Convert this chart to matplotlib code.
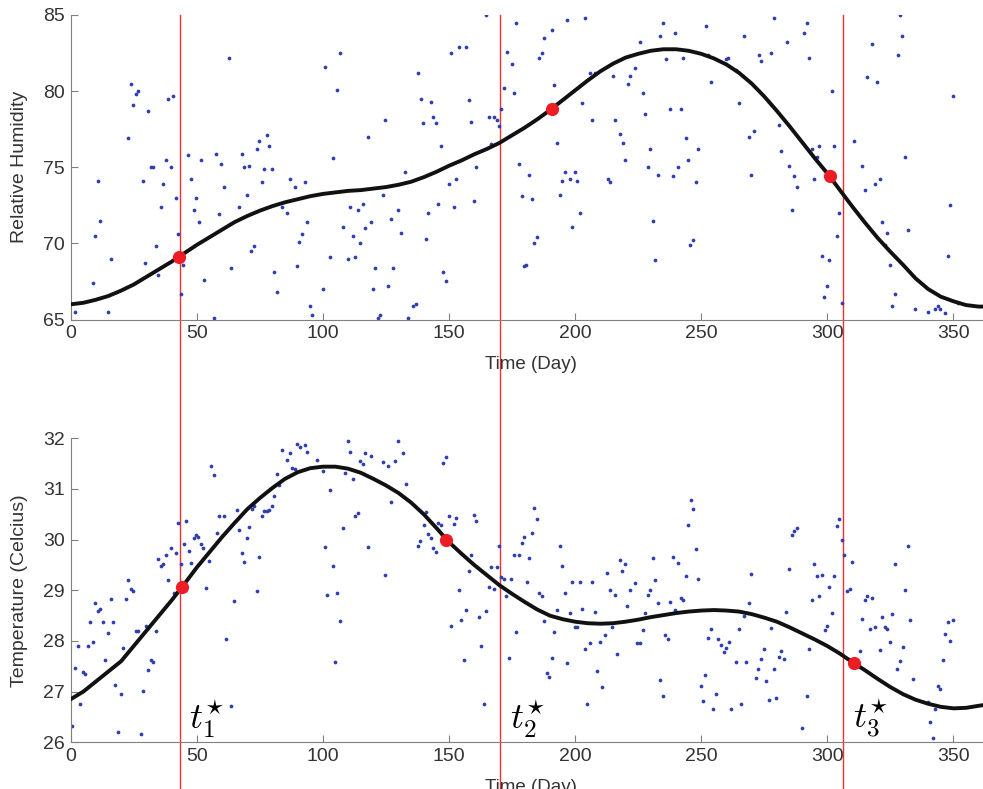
import matplotlib.pyplot as plt

plt.rcParams['font.family'] = ['Liberation Sans', 'DejaVu Sans']
plt.rcParams['mathtext.fontset'] = 'cm'

# change points (days)
change_days = [43.2, 170.4, 306.4]
change_labels = [r'$t_1^{\star}$', r'$t_2^{\star}$', r'$t_3^{\star}$']

# smooth fits, read every 5 days
fit_day = list(range(0, 366, 5))
hum_fit = [66.0, 66.1, 66.3, 66.55, 66.9, 67.3, 67.8, 68.3, 68.8, 69.35, 69.9, 70.4, 70.9, 71.4,
           71.8, 72.15, 72.45, 72.7, 72.9, 73.1, 73.25, 73.35, 73.45, 73.5, 73.6, 73.7, 73.85,
           74.05, 74.35, 74.7, 75.1, 75.45, 75.85, 76.2, 76.6, 77.1, 77.6, 78.15, 78.75, 79.4,
           80.05, 80.7, 81.3, 81.8, 82.2, 82.45, 82.65, 82.75, 82.75, 82.65, 82.45, 82.15, 81.75,
           81.2, 80.5, 79.65, 78.7, 77.7, 76.65, 75.6, 74.6, 73.5, 72.4, 71.35, 70.35, 69.45,
           68.6, 67.7, 67.0, 66.5, 66.2, 65.95, 65.85, 65.85]
temp_fit = [26.85, 27.0, 27.2, 27.4, 27.6, 27.9, 28.2, 28.5, 28.8, 29.12, 29.45, 29.75, 30.05,
            30.33, 30.6, 30.82, 31.02, 31.2, 31.33, 31.41, 31.44, 31.44, 31.4, 31.32, 31.2, 31.07,
            30.92, 30.73, 30.5, 30.23, 29.95, 29.72, 29.5, 29.3, 29.1, 28.93, 28.77, 28.62, 28.5,
            28.43, 28.38, 28.35, 28.34, 28.35, 28.38, 28.42, 28.47, 28.51, 28.55, 28.58, 28.6,
            28.61, 28.6, 28.58, 28.53, 28.46, 28.38, 28.27, 28.15, 28.03, 27.9, 27.75, 27.58,
            27.42, 27.25, 27.09, 26.95, 26.84, 26.76, 26.7, 26.67, 26.68, 26.72, 26.76]

# points picked on the fits
hum_mark_day = [43, 191, 301]
hum_mark_val = [69.1, 78.85, 74.4]
temp_mark_day = [44, 149, 310.5]
temp_mark_val = [29.06, 30.0, 27.56]

# daily observations
hum_day = [1.7, 8.7, 9.6, 10.7, 11.8, 14.9, 15.8, 22.6, 23.8, 24.7, 25.8, 26.7, 28.7, 29.6, 30.7,
           31.8, 32.8, 33.7, 34.7, 35.8, 36.7, 37.8, 38.7, 39.7, 40.7, 41.8, 42.7, 43.7, 44.7, 46.7,
           47.7, 48.7, 49.8, 50.7, 51.8, 52.7, 56.8, 57.8, 58.8, 59.7, 60.8, 62.6, 63.7, 66.7, 67.8,
           68.9, 69.8, 70.8, 71.6, 72.7, 73.7, 74.8, 75.7, 76.6, 77.7, 78.8, 79.8, 80.7, 81.7, 83.8,
           85.8, 86.8, 88.8, 89.9, 90.7, 91.8, 92.8, 93.7, 94.8, 95.8, 99.9, 100.8, 102.8, 103.9,
           105.7, 106.8, 107.9, 109.8, 110.9, 111.8, 112.7, 113.8, 114.8, 115.9, 116.7, 117.7, 118.9,
           119.7, 120.8, 121.8, 122.8, 123.8, 124.8, 125.8, 126.9, 127.8, 129.8, 130.8, 132.7, 133.9,
           135.9, 136.8, 137.7, 138.8, 139.8, 140.9, 141.8, 142.7, 143.8, 144.8, 145.8, 146.8, 147.8,
           148.8, 149.9, 150.8, 151.8, 152.9, 153.8, 156.8, 157.8, 158.7, 159.8, 160.8, 164.8, 165.7,
           166.8, 167.8, 168.9, 169.8, 170.7, 171.8, 172.8, 174.8, 175.8, 176.7, 177.7, 178.8, 179.9,
           180.7, 181.7, 182.9, 183.8, 184.9, 185.8, 186.8, 187.8, 190.7, 191.8, 193.0, 193.9, 194.8,
           195.9, 196.8, 197.8, 198.9, 199.8, 200.9, 201.8, 202.9, 203.8, 205.9, 206.8, 207.9, 212.9,
           214.0, 214.9, 215.8, 217.9, 218.9, 219.8, 220.9, 221.9, 223.8, 225.9, 226.8, 227.9, 228.8,
           229.8, 230.8, 231.8, 232.8, 233.7, 234.9, 236.0, 237.8, 238.8, 239.8, 240.9, 241.8, 242.8,
           243.8, 244.8, 245.7, 246.7, 247.8, 248.7, 251.8, 252.7, 253.9, 259.8, 260.6, 263.8, 264.9,
           266.8, 268.9, 269.9, 270.8, 272.8, 273.7, 277.8, 278.9, 280.7, 281.8, 283.9, 284.8, 285.9,
           286.8, 287.9, 290.9, 291.8, 292.7, 293.8, 294.8, 295.9, 296.9, 297.8, 298.8, 299.8, 300.8,
           301.9, 302.8, 303.8, 304.8, 305.7, 310.7, 313.8, 314.8, 315.8, 317.7, 318.8, 319.8, 320.9,
           321.7, 322.9, 323.8, 324.9, 325.8, 326.8, 327.9, 328.8, 329.8, 330.8, 331.8, 334.8, 339.8,
           342.8, 343.7, 344.8, 346.8, 347.8, 348.8, 349.8, 351.8]
hum_val = [65.5, 67.4, 70.5, 74.1, 71.5, 65.5, 69.0, 76.9, 80.5, 79.1, 79.8, 80.0, 74.1, 68.7, 78.7,
           75.0, 75.0, 69.8, 67.9, 72.4, 73.9, 75.5, 79.5, 75.0, 79.7, 73.0, 70.6, 66.7, 68.6, 75.8,
           74.2, 72.2, 73.0, 71.4, 75.5, 67.6, 65.1, 75.9, 71.9, 75.2, 73.7, 82.2, 68.4, 72.4, 75.9,
           75.0, 73.2, 75.1, 69.5, 69.8, 76.2, 76.7, 74.0, 74.9, 77.1, 76.4, 74.9, 68.1, 66.8, 72.4,
           72.0, 74.2, 73.7, 68.5, 70.1, 70.6, 74.0, 71.4, 65.9, 65.3, 67.0, 81.6, 69.1, 75.6,
           80.1, 82.5, 71.1, 69.0, 72.4, 70.5, 69.1, 72.2, 70.0, 72.6, 71.0, 77.0, 71.4,
           67.0, 68.4, 65.1, 65.3, 73.2, 78.1, 67.2, 71.6, 68.4, 72.2, 70.7, 74.7, 65.1,
           65.9, 66.0, 81.2, 79.5, 77.9, 70.3, 72.0, 79.3, 78.3, 77.9, 72.6, 76.4, 68.1,
           67.5, 73.9, 82.5, 72.4, 74.2, 82.9, 82.9, 79.4, 78.0, 72.8, 75.0, 85.0, 78.3,
           76.5, 78.3, 78.1, 77.7, 78.8, 80.2, 82.6, 81.8, 79.9, 84.5, 75.2, 73.1, 68.5,
           68.6, 74.5, 72.9, 70.0, 70.4, 82.2, 82.5, 83.5, 84.0, 80.4, 76.6, 73.2, 74.1,
           74.7, 84.7, 74.2, 71.1, 74.7, 74.1, 72.0, 79.2, 84.8, 81.2, 78.1, 81.2, 74.2,
           74.0, 81.0, 78.1, 77.2, 76.6, 75.5, 80.5, 81.0, 81.5, 83.2, 79.9, 78.5, 75.0,
           76.2, 71.5, 68.9, 74.5, 83.6, 84.5, 82.1, 78.8, 74.4, 83.8, 75.0, 78.8, 82.2,
           76.9, 75.5, 69.9, 70.2, 74.0, 76.2, 84.3, 82.4, 80.6, 82.1, 82.2, 81.4, 79.2,
           83.6, 77.0, 74.5, 77.4, 82.4, 82.0, 82.5, 84.8, 77.8, 76.1, 83.2, 75.1, 72.2,
           74.4, 73.7, 83.8, 84.5, 82.2, 76.2, 74.2, 75.7, 76.4, 69.2, 66.5, 67.2, 68.9,
           80.0, 76.4, 70.5, 72.0, 66.1, 76.7, 75.1, 73.5, 80.9, 83.1, 73.9, 80.6, 74.2,
           71.4, 69.9, 70.7, 68.6, 65.9, 66.7, 82.4, 85.0, 83.6, 75.7, 70.9, 65.7, 65.5,
           65.7, 65.9, 65.7, 65.4, 69.2, 72.5, 79.7, 66.1]

temp_day = [0.6, 1.7, 2.8, 3.7, 4.7, 5.7, 6.7, 7.7, 8.7, 9.6, 10.7, 11.6, 12.8, 13.7, 14.8, 15.8,
            16.8, 17.7, 18.8, 19.8, 20.9, 21.8, 22.7, 23.8, 24.7, 25.8, 26.7, 27.7, 28.8, 29.7, 30.7,
            31.7, 32.6, 33.7, 34.7, 35.7, 36.7, 37.8, 38.7, 39.8, 40.8, 41.9, 42.7, 43.7, 44.8, 45.9,
            46.8, 47.7, 48.8, 49.7, 50.6, 51.7, 52.6, 53.7, 54.7, 55.8, 56.8, 57.9, 58.8, 60.8, 61.7,
            63.7, 64.8, 65.8, 66.9, 67.8, 68.8, 69.8, 70.7, 71.8, 72.8, 73.7, 74.7, 75.7, 76.8, 77.8,
            78.8, 79.8, 80.7, 81.8, 82.7, 83.8, 85.8, 86.8, 87.9, 88.9, 89.9, 90.8, 92.9, 93.7, 97.8,
            99.9, 100.8, 101.8, 102.8, 103.9, 104.8, 105.7, 106.8, 107.9, 108.8, 109.8, 110.9, 111.8,
            112.7, 113.8, 114.8, 115.8, 116.7, 117.7, 119.1, 123.7, 124.6, 125.7, 126.9, 128.6, 129.8,
            131.8, 132.8, 137.8, 138.7, 139.9, 140.8, 141.8, 142.7, 143.8, 144.7, 145.8, 146.7, 147.8,
            148.8, 149.9, 150.8, 151.8, 152.9, 153.9, 154.8, 155.8, 156.9, 157.8, 158.8, 159.8, 160.7,
            161.7, 162.7, 163.9, 164.8, 165.9, 166.8, 167.9, 168.9, 169.8, 170.7, 171.8, 172.7, 173.8,
            174.7, 175.8, 176.7, 177.7, 178.8, 179.7, 180.8, 181.7, 182.8, 183.8, 184.9, 185.8, 186.8,
            187.8, 188.7, 189.8, 190.7, 191.8, 192.8, 193.9, 194.8, 195.9, 196.8, 197.8, 198.9, 199.8,
            200.9, 201.8, 202.7, 203.8, 204.7, 205.8, 206.7, 207.8, 208.7, 209.7, 210.8, 211.9, 212.8,
            213.8, 214.8, 215.8, 216.7, 217.8, 218.7, 219.8, 220.7, 221.8, 223.8, 224.7, 225.7, 226.8,
            227.8, 228.8, 229.8, 230.8, 231.8, 232.9, 233.8, 234.7, 235.8, 236.9, 237.8, 238.8, 239.8,
            240.8, 241.8, 242.8, 243.8, 244.8, 245.8, 246.9, 247.9, 248.7, 249.8, 250.7, 251.7, 252.7,
            253.8, 254.8, 255.8, 256.8, 257.9, 258.9, 259.8, 260.9, 261.8, 263.8, 264.9, 265.9, 266.8,
            267.9, 268.8, 269.9, 271.7, 272.6, 273.8, 274.9, 275.8, 276.7, 277.8, 278.9, 279.8, 280.7,
            281.8, 282.8, 283.8, 284.8, 286.0, 286.8, 287.9, 289.8, 291.8, 292.7, 293.8, 294.7, 295.9,
            296.9, 297.9, 299.0, 299.9, 300.8, 301.8, 302.8, 303.7, 304.7, 305.7, 306.7, 307.8, 308.8,
            309.8, 312.8, 313.8, 314.8, 315.7, 316.8, 317.8, 318.8, 320.9, 321.8, 322.9, 323.8, 324.9,
            325.8, 326.8, 327.8, 328.9, 329.9, 330.9, 331.9, 332.8, 333.8, 339.8, 340.8, 341.9, 342.8,
            343.8, 344.8, 345.8, 346.8, 347.8, 348.8, 349.8]
temp_val = [26.33, 27.47, 27.90, 26.75, 27.38, 27.34, 27.90, 28.38, 27.98, 28.75, 28.60, 28.64, 28.38,
            27.63, 28.15, 28.83, 28.38, 27.14, 26.20, 26.95, 27.86, 28.83, 29.20, 29.02, 28.98, 28.19,
            28.19, 26.17, 27.02, 28.30, 27.42, 27.63, 27.59, 28.19, 29.62, 29.47, 29.51, 29.69, 29.20,
            29.84, 28.94, 29.73, 30.33, 29.51, 29.92, 30.37, 29.77, 29.54, 30.03, 30.10, 30.06, 29.92,
            29.84, 29.04, 29.58, 31.46, 31.27, 30.14, 30.47, 30.47, 28.04, 26.72, 28.79, 30.58, 30.19,
            29.74, 29.56, 30.03, 30.24, 30.60, 30.67, 28.98, 29.65, 30.47, 30.56, 30.56, 30.58, 30.67,
            30.87, 31.29, 31.08, 31.76, 31.57, 31.70, 31.42, 31.39, 31.89, 31.83, 31.87, 31.72, 31.57,
            31.35, 29.85, 28.91, 30.98, 29.47, 27.58, 28.95, 28.39, 30.22, 31.31, 31.95, 31.72, 31.20,
            30.47, 30.52, 31.56, 31.50, 31.70, 29.85, 31.65, 31.53, 29.31, 31.45, 30.74, 31.56, 31.95,
            31.70, 31.10, 29.87, 29.97, 30.28, 30.54, 30.12, 30.03, 29.84, 29.75, 30.32, 30.28, 31.51,
            31.64, 30.47, 28.30, 30.31, 30.43, 29.01, 28.41, 27.62, 28.61, 29.38, 29.70, 30.49, 30.37,
            28.47, 27.91, 26.75, 28.59, 29.07, 29.45, 29.02, 29.45, 29.87, 29.27, 29.22, 28.89, 27.66,
            29.22, 29.70, 28.17, 29.70, 29.93, 30.06, 29.16, 29.64, 30.14, 30.63, 30.40, 28.94, 28.88,
            28.39, 27.37, 27.29, 27.66, 28.18, 28.61, 29.87, 29.47, 28.94, 27.56, 28.55, 29.16, 28.28,
            28.28, 29.16, 28.64, 27.84, 26.75, 27.95, 29.16, 28.57, 27.41, 27.97, 27.09, 28.12, 29.35,
            29.01, 28.28, 28.91, 27.74, 29.60, 29.39, 29.51, 28.69, 29.00, 29.15, 27.95, 27.95, 28.22,
            28.56, 28.91, 29.00, 29.63, 29.20, 28.74, 27.22, 26.92, 28.12, 28.03, 28.77, 29.66, 28.61,
            29.53, 28.85, 28.81, 29.28, 30.29, 30.78, 30.60, 29.81, 29.22, 27.12, 26.82, 27.32, 28.06,
            28.23, 26.65, 26.95, 28.03, 27.93, 27.78, 27.87, 27.98, 26.65, 27.59, 28.23, 26.76, 28.50,
            27.58, 28.74, 29.33, 27.26, 27.44, 27.65, 27.84, 27.21, 26.84, 28.25, 27.44, 26.87, 27.69,
            27.80, 27.65, 28.58, 29.43, 30.09, 30.18, 30.22, 26.29, 26.92, 27.85, 28.81, 29.51, 29.28,
            28.89, 29.31, 28.22, 28.30, 29.07, 28.55, 29.28, 30.26, 30.40, 30.00, 29.70, 28.98, 29.02,
            29.55, 27.80, 28.43, 28.81, 28.89, 28.23, 28.85, 28.27, 27.82, 28.48, 28.27, 28.23, 27.97,
            28.54, 29.51, 27.45, 27.60, 27.89, 29.00, 29.87, 28.41, 27.25, 26.80, 26.40, 26.09, 26.66,
            27.12, 27.05, 27.63, 28.13, 28.37, 28.00, 28.41]

fig = plt.figure(figsize=(9.83, 7.89), dpi=100)
ax1 = fig.add_axes([0.0719, 0.595, 0.9365, 0.386])
ax2 = fig.add_axes([0.0719, 0.0592, 0.9365, 0.3853])

panels = [
    (ax1, hum_day, hum_val, hum_fit, hum_mark_day, hum_mark_val, (65, 85), range(65, 86, 5),
     'Relative Humidity', -0.4),
    (ax2, temp_day, temp_val, temp_fit, temp_mark_day, temp_mark_val, (26, 32), range(26, 33),
     'Temperature (Celcius)', -0.2),
]
for ax, d, v, fit, md, mv, ylim, yt, ylab, vlow in panels:
    ax.plot(d, v, 'o', ms=2.7, color='#2f3fb0', mec='none', zorder=2)
    for cp in change_days:
        ax.axvline(cp, ymin=vlow, ymax=1, color='#f03030', lw=1.0, clip_on=False, zorder=1.5)
    ax.plot(fit_day, fit, color='#111111', lw=2.8, zorder=3, solid_capstyle='round')
    ax.plot(md, mv, 'o', ms=9.5, color='#ee1c24', mec='none', zorder=4)
    ax.set_xlim(0, 365)
    ax.set_ylim(*ylim)
    ax.set_xticks(range(0, 351, 50))
    ax.set_yticks(yt)
    for s in ['top', 'right']:
        ax.spines[s].set_visible(False)
    for s in ['left', 'bottom']:
        ax.spines[s].set_color('#808080')
    ax.tick_params(direction='in', length=5, color='#808080', labelcolor='#333333', labelsize=14, pad=4)
    ax.set_xlabel('Time (Day)', fontsize=13.5, color='#333333', labelpad=10)
    ax.set_ylabel(ylab, fontsize=14, color='#333333', labelpad=11)

for cp, lab in zip(change_days, change_labels):
    ax2.text(cp + 3.8, 26.05, lab, fontsize=26, ha='left', va='bottom', zorder=5)

fig.savefig('out.png', dpi=100)
